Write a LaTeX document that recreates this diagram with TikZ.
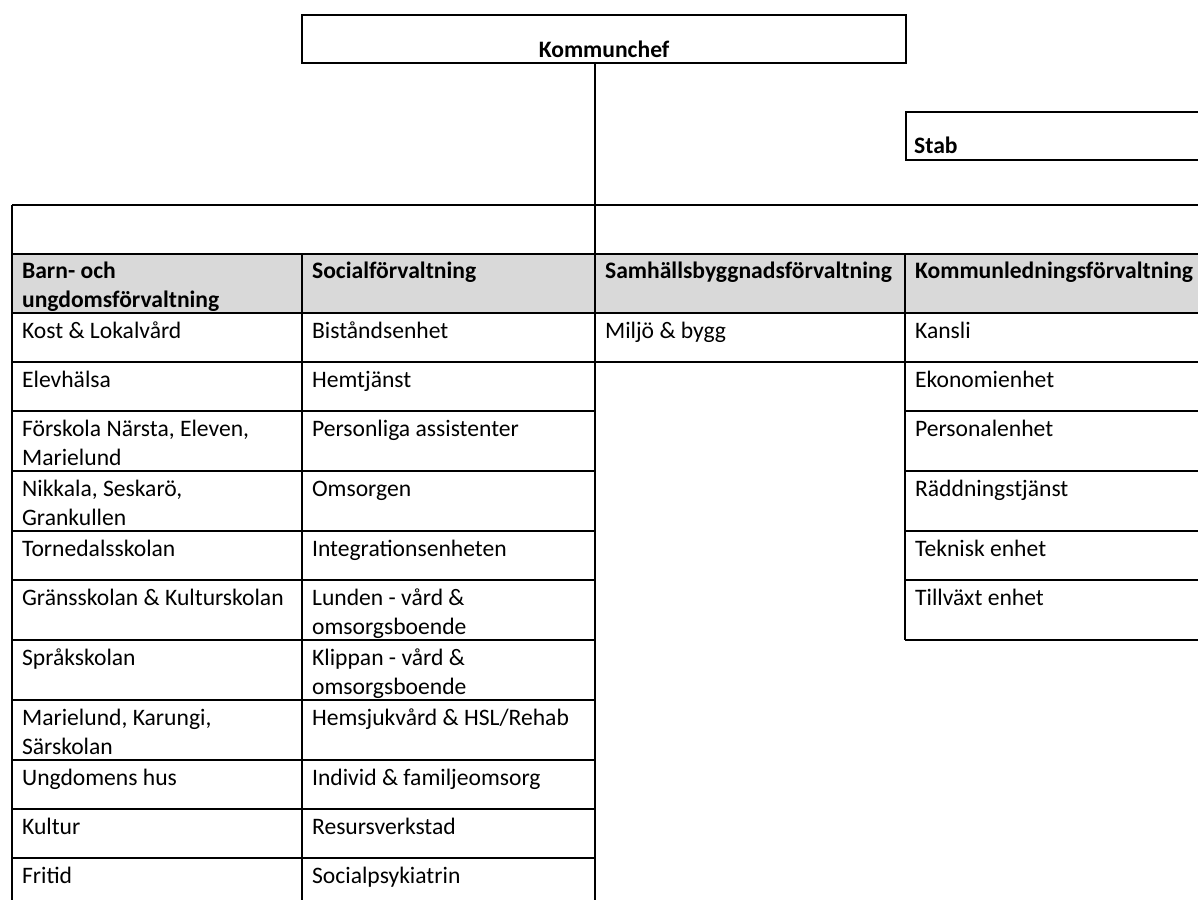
\documentclass[tikz,border=0pt]{standalone}
\usepackage{fontspec}
\setmainfont{Carlito}
\definecolor{headgray}{HTML}{D9D9D9}
\begin{document}
\begin{tikzpicture}[x=0.5pt,y=-0.5pt,line width=1.1pt,
        every node/.style={inner sep=0pt,font=\fontsize{11.8}{14.4}\selectfont},
        txt/.style={anchor=base west,align=left},
        hd/.style={txt,font=\fontsize{11.8}{14.4}\selectfont\bfseries}]
    \useasboundingbox (0,0) rectangle (1198,899);

    \node[draw,anchor=north west,minimum width=302pt,text height=18pt,text depth=0pt,
        inner ysep=3pt,font=\fontsize{11.8}{14.4}\selectfont\bfseries] (k) at (301,14) {Kommunchef};
    \node[draw,anchor=north west,text width=152pt,inner xsep=4pt,inner ysep=3.5pt,text height=17pt,
        text depth=0pt,font=\fontsize{11.8}{14.4}\selectfont\bfseries] (s) at (905,111) {Stab};

    % table
    \fill[headgray] (12,254) rectangle (1230,313);
    \draw (12,205) -- (1230,205) (12,254) -- (1230,254) (12,313) -- (1230,313) (12,362) -- (1230,362);
    \draw (12,411) -- (595,411) (12,471) -- (595,471) (12,531) -- (595,531) (12,580) -- (595,580)
          (12,640) -- (595,640) (12,700) -- (595,700) (12,760) -- (595,760) (12,809) -- (595,809)
          (12,858) -- (595,858);
    \draw (905,411) -- (1230,411) (905,471) -- (1230,471) (905,531) -- (1230,531) (905,580) -- (1230,580)
          (905,640) -- (1230,640);
    \draw (12,205) -- (12,910) (302,254) -- (302,910) (595,205) -- (595,910) (905,254) -- (905,640);

    \coordinate (t) at (595,205);
    \draw (k.south -| t) -- (t);

    % two-line texts sit on the baseline of their last line
    \node[hd] (h1) at (21,307) {Barn- och\\ungdomsförvaltning};
    \node[hd] (h2) at (311,278) {Socialförvaltning};
    \node[hd] (h3) at (604,278) {Samhällsbyggnadsförvaltning};
    \node[hd] (h4) at (914,278) {Kommunledningsförvaltning};

    \node[txt] (a1) at (21,338) {Kost \& Lokalvård};
    \node[txt] (a2) at (21,387) {Elevhälsa};
    \node[txt] (a3) at (21,465) {Förskola Närsta, Eleven,\\Marielund};
    \node[txt] (a4) at (21,525) {Nikkala, Seskarö,\\Grankullen};
    \node[txt] (a5) at (21,556) {Tornedalsskolan};
    \node[txt] (a6) at (21,605) {Gränsskolan \& Kulturskolan};
    \node[txt] (a7) at (21,665) {Språkskolan};
    \node[txt] (a8) at (21,754) {Marielund, Karungi,\\Särskolan};
    \node[txt] (a9) at (21,785) {Ungdomens hus};
    \node[txt] (a10) at (21,834) {Kultur};
    \node[txt] (a11) at (21,883) {Fritid};

    \node[txt] (b1) at (311,338) {Biståndsenhet};
    \node[txt] (b2) at (311,387) {Hemtjänst};
    \node[txt] (b3) at (311,436) {Personliga assistenter};
    \node[txt] (b4) at (311,496) {Omsorgen};
    \node[txt] (b5) at (311,556) {Integrationsenheten};
    \node[txt] (b6) at (311,634) {Lunden - vård \&\\omsorgsboende};
    \node[txt] (b7) at (311,694) {Klippan - vård \&\\omsorgsboende};
    \node[txt] (b8) at (311,725) {Hemsjukvård \& HSL/Rehab};
    \node[txt] (b9) at (311,785) {Individ \& familjeomsorg};
    \node[txt] (b10) at (311,834) {Resursverkstad};
    \node[txt] (b11) at (311,883) {Socialpsykiatrin};

    \node[txt] (c1) at (604,338) {Miljö \& bygg};

    \node[txt] (d1) at (914,338) {Kansli};
    \node[txt] (d2) at (914,387) {Ekonomienhet};
    \node[txt] (d3) at (914,436) {Personalenhet};
    \node[txt] (d4) at (914,496) {Räddningstjänst};
    \node[txt] (d5) at (914,556) {Teknisk enhet};
    \node[txt] (d6) at (914,605) {Tillväxt enhet};
\end{tikzpicture}
\end{document}
